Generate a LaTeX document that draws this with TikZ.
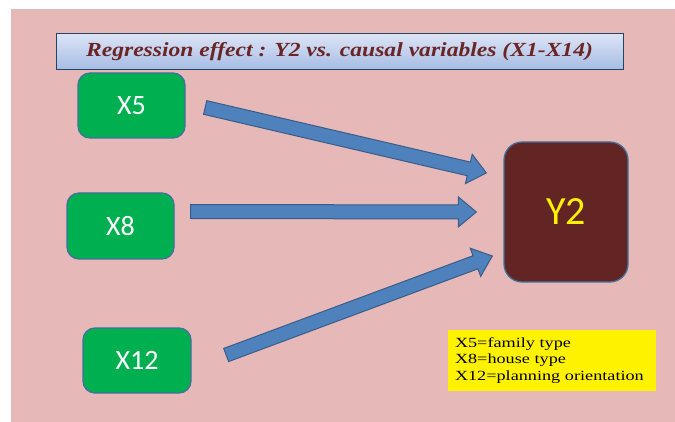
\documentclass[tikz,border=0pt]{standalone}
\usepackage{fontspec}
\newfontfamily\boxfont{Carlito}
\newfontfamily\titlefont{Liberation Serif}[FakeStretch=1.18]
\newfontfamily\legendfont{Liberation Serif}[FakeStretch=1.3]
\usetikzlibrary{calc}

\definecolor{bgpink}{HTML}{E6B8B7}
\definecolor{vargreen}{HTML}{00B050}
\definecolor{boxline}{HTML}{41719C}
\definecolor{targetred}{HTML}{632523}
\definecolor{arrowblue}{HTML}{4F81BD}
\definecolor{arrowline}{HTML}{385D8A}
\definecolor{titletext}{HTML}{6B2525}
\definecolor{titletop}{HTML}{DCE4F5}
\definecolor{titlebottom}{HTML}{A6BCE5}

% block arrow from #1 to #2
\newcommand{\blockarrow}[2]{%
	\coordinate (ab) at ($(#2)!18pt!(#1)$);
	\draw [arrowbody] ($(#1)!7pt!90:(#2)$) -- ($(ab)!7pt!90:(#2)$) -- ($(ab)!15pt!90:(#2)$) -- (#2)
		-- ($(ab)!15pt!-90:(#2)$) -- ($(ab)!7pt!-90:(#2)$) -- ($(#1)!7pt!-90:(#2)$) -- cycle;}

\begin{document}
\begin{tikzpicture}[
			x=1pt, y=-1pt,
			title/.style={rectangle, draw=boxline!60!black, line width=1pt, top color=titletop, bottom color=titlebottom, minimum width=567pt, minimum height=36pt, text=titletext, font=\titlefont\bfseries\itshape\fontsize{20}{23}\selectfont},
			varbox/.style={rectangle, draw=boxline, line width=1.3pt, fill=vargreen, rounded corners=12pt, minimum width=107pt, minimum height=65pt, text=white, font=\boxfont\fontsize{28}{30}\selectfont},
			target/.style={rectangle, draw=boxline, line width=1.3pt, fill=targetred, rounded corners=18pt, minimum width=124pt, minimum height=140pt, text=yellow, font=\boxfont\fontsize{40}{44}\selectfont},
			legend/.style={rectangle, fill=yellow, inner sep=7pt, text width=194pt, minimum height=57pt, align=left, font=\legendfont\fontsize{14}{16.7}\selectfont},
			arrowbody/.style={fill=arrowblue, draw=arrowline, line width=1pt, line join=miter}
			]
			\useasboundingbox (0,0) rectangle (675,422);
			\fill [bgpink] (11,9) rectangle (675,422);
			
			% Nodes
			\node (head) [title] at (339.5,52) {Regression effect : Y2 vs. causal variables (X1-X14)};
			\node (x5) [varbox] at (131.5,105.5) {X5};
			\node (x8) [varbox, minimum height=66pt] at (120.5,226) {X8};
			\node (x12) [varbox, minimum width=108pt] at (137,360.5) {X12};
			\node (y2) [target] at (566,212) {Y2};
			\node (key) [legend] at (552,360.5) {X5=family type\\X8=house type\\X12=planning orientation};
			
			% Arrow ends
			\coordinate (s5) at ($(x5.east)+(19.5,2)$);
			\coordinate (t5) at ($(y2.west)+(-17,-39)$);
			\coordinate (s8) at ($(x8.east)+(16,-14.5)$);
			\coordinate (t8) at ($(y2.west)+(-27,0)$);
			\coordinate (s12) at ($(x12.east)+(34.5,-5.5)$);
			\coordinate (t12) at ($(y2.west)+(-11,44)$);
			
			% Arrows
			\blockarrow{s5}{t5}
			\blockarrow{s8}{t8}
			\blockarrow{s12}{t12}
		\end{tikzpicture}
\end{document}
